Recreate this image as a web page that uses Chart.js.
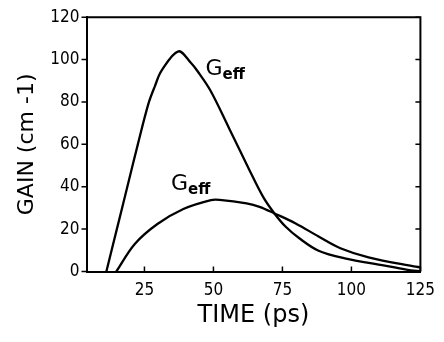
<!DOCTYPE html>
<html>
<head>
<meta charset="utf-8">
<script src="https://cdn.jsdelivr.net/npm/chart.js@4.4.1/dist/chart.umd.min.js"></script>
<style>
  html, body { margin: 0; padding: 0; background: #fff; }
  #wrap { width: 444px; height: 342px; }
</style>
</head>
<body>
<div id="wrap"><canvas id="gainChart"></canvas></div>
<script>
// values
const timeHigh = [11.2, 15, 18.8, 22.6, 26.4, 28.8, 31.2, 37.3, 41.8, 44.2, 48.9, 55.7, 62.8, 68, 72.1, 76.2, 81, 88.1, 97.6, 112.1, 121.5, 125];
const gainHigh = [0, 20, 40, 60, 79, 87.5, 94.8, 103.9, 98.5, 94.6, 85.4, 67.5, 48.5, 35.2, 27.4, 21.1, 15.8, 9.8, 6.2, 2.8, 0.5, 0.2];

const timeLow = [14.8, 21.5, 29.7, 39.1, 49.1, 52.2, 62, 66.7, 72.1, 79.8, 88.1, 96, 106.2, 122.6, 125];
const gainLow = [0, 13, 22.4, 29.5, 33.7, 33.8, 32.1, 30.5, 27.4, 22.7, 16.5, 11, 6.7, 2.4, 2];

const xTicks = [25, 50, 75, 100, 125];
const yTicks = [0, 20, 40, 60, 80, 100, 120];

// curve labels (G_eff), placed in data units
const labelTime = [47.1, 34.6];
const labelGain = [92.5, 38.6];

const fontFamily = '"DejaVu Sans Condensed", "Liberation Sans Narrow", "DejaVu Sans", sans-serif';

function toPoints(xs, ys) {
    return xs.map((t, i) => ({ x: t, y: ys[i] }));
}

const frameTicks = {
    id: 'frameTicks',
    afterDraw(chart) {
        const ctx = chart.ctx;
        const a = chart.chartArea;
        const x = chart.scales.x;
        const y = chart.scales.y;
        ctx.save();
        ctx.strokeStyle = '#000';
        ctx.lineWidth = 2;
        ctx.beginPath();
        ctx.moveTo(a.left, a.top);
        ctx.lineTo(a.right, a.top);
        ctx.lineTo(a.right, a.bottom);
        ctx.stroke();

        ctx.lineWidth = 1.5;
        ctx.beginPath();
        yTicks.forEach(v => {
            const py = y.getPixelForValue(v);
            ctx.moveTo(a.left - 5, py);
            ctx.lineTo(a.left, py);
            ctx.moveTo(a.right - 5, py);
            ctx.lineTo(a.right, py);
        });
        xTicks.forEach(v => {
            const px = x.getPixelForValue(v);
            ctx.moveTo(px, a.bottom);
            ctx.lineTo(px, a.bottom - 5);
        });
        ctx.stroke();

        // G_eff labels
        ctx.fillStyle = '#000';
        ctx.textBaseline = 'alphabetic';
        labelTime.forEach((t, i) => {
            const px = x.getPixelForValue(t);
            const py = y.getPixelForValue(labelGain[i]);
            ctx.font = '22px "DejaVu Sans", sans-serif';
            ctx.fillText('G', px, py);
            const w = ctx.measureText('G').width;
            ctx.font = 'bold 15px "DejaVu Sans", sans-serif';
            ctx.fillText('eff', px + w, py + 4);
        });
        ctx.restore();
    }
};

const ctx = document.getElementById('gainChart').getContext('2d');
new Chart(ctx, {
    type: 'line',
    data: {
        datasets: [{
            data: toPoints(timeHigh, gainHigh),
            borderColor: '#000',
            borderWidth: 2.3,
            pointRadius: 0,
            tension: 0.35,
            fill: false
        }, {
            data: toPoints(timeLow, gainLow),
            borderColor: '#000',
            borderWidth: 2.3,
            pointRadius: 0,
            tension: 0.35,
            fill: false
        }]
    },
    options: {
        responsive: true,
        maintainAspectRatio: false,
        animation: false,
        layout: { padding: { left: 0, right: 17, top: 16, bottom: 0 } },
        plugins: {
            legend: { display: false },
            tooltip: { enabled: false }
        },
        scales: {
            x: {
                type: 'linear',
                min: 4,
                max: 125,
                afterBuildTicks: s => { s.ticks = xTicks.map(v => ({ value: v })); },
                afterFit: s => { s.height = 70.5; },
                grid: { display: false, drawTicks: false },
                border: { display: true, color: '#000', width: 2 },
                ticks: {
                    color: '#000',
                    font: { family: fontFamily, size: 17 },
                    padding: 9,
                    maxRotation: 0,
                    autoSkip: false
                },
                title: {
                    display: true,
                    text: 'TIME (ps)',
                    color: '#000',
                    font: { family: '"DejaVu Sans", sans-serif', size: 24 },
                    padding: { top: 0, bottom: 12 }
                }
            },
            y: {
                type: 'linear',
                min: 0,
                max: 120,
                afterBuildTicks: s => { s.ticks = yTicks.map(v => ({ value: v })); },
                afterFit: s => { s.width = 86.5; },
                grid: { display: false, drawTicks: false },
                border: { display: true, color: '#000', width: 2 },
                ticks: {
                    color: '#000',
                    font: { family: fontFamily, size: 17 },
                    padding: 7
                },
                title: {
                    display: true,
                    text: 'GAIN (cm -1)',
                    color: '#000',
                    font: { family: '"DejaVu Sans", sans-serif', size: 22 },
                    padding: { top: 14, bottom: 0 }
                }
            }
        }
    },
    plugins: [frameTicks]
});
</script>
</body>
</html>
